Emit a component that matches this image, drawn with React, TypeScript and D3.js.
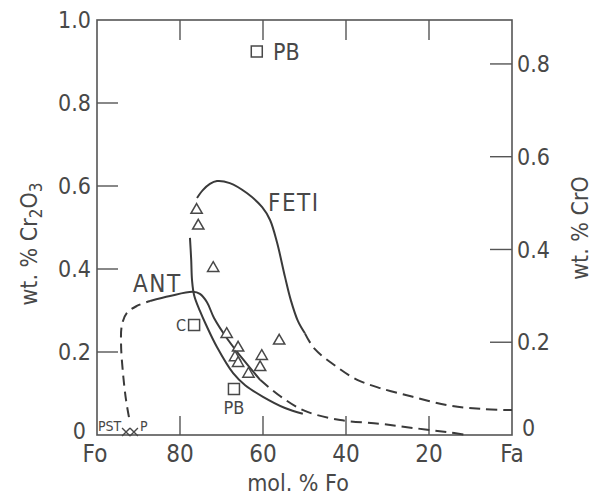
import React from 'react';
import * as d3 from 'd3';

// mol.% Fo, wt.% Cr2O3
const triangles: [number, number][] = [
  [76.0, 0.542], [75.6, 0.504], [72.0, 0.402], [68.75, 0.243], [66.0, 0.21],
  [66.75, 0.187], [66.0, 0.173], [63.5, 0.147], [60.3, 0.19], [60.7, 0.163], [56.1, 0.227],
];
const squares: [number, number][] = [[61.5, 0.924], [76.6, 0.265], [67.0, 0.111]];
const crosses: [number, number][] = [[93.0, 0.007], [91.1, 0.007]];

const antDashLeft: [number, number][] = [
  [92.3, 0.043], [93.0, 0.084], [93.7, 0.145], [94.2, 0.217], [94.0, 0.265],
  [92.8, 0.294], [90.4, 0.311], [87.2, 0.323],
];
const antSolid: [number, number][] = [
  [87.2, 0.323], [82.4, 0.335], [76.9, 0.345], [75.2, 0.34], [73.5, 0.32],
  [71.8, 0.282], [68.4, 0.229], [64.3, 0.176], [60.7, 0.133],
];
const antDashRight: [number, number][] = [
  [60.7, 0.133], [55.9, 0.094], [49.9, 0.058], [41.4, 0.036], [31.8, 0.027],
  [23.9, 0.017], [15.7, 0.007], [10.8, 0],
];
const fetiLower: [number, number][] = [
  [50.4, 0.051], [54.7, 0.065], [60.0, 0.092], [64.3, 0.12], [67.2, 0.149],
  [71.1, 0.212], [73.7, 0.265], [75.2, 0.299], [76.6, 0.337], [77.1, 0.373],
  [77.3, 0.422], [77.6, 0.475],
];
const fetiUpper: [number, number][] = [
  [75.9, 0.571], [74.5, 0.59], [72.8, 0.605], [71.1, 0.612], [68.0, 0.607],
  [63.9, 0.583], [60.2, 0.549], [58.3, 0.518], [56.6, 0.463], [54.7, 0.381],
  [53.3, 0.325], [51.6, 0.275], [49.9, 0.245],
];
const fetiDash: [number, number][] = [
  [49.9, 0.245], [47.6, 0.208], [42.2, 0.164], [37.3, 0.133], [31.8, 0.113],
  [23.9, 0.092], [15.7, 0.072], [7.7, 0.063], [0, 0.06],
];

const xTicks = [80, 60, 40, 20];
const xTickLabels = ['Fo', '80', '60', '40', '20', 'Fa'];
const xTickLabelValues = [100, 80, 60, 40, 20, 0];
const leftTicks = [0.2, 0.4, 0.6, 0.8];
const leftLabels = ['0', '0.2', '0.4', '0.6', '0.8', '1.0'];
const rightTicks = [0.2, 0.4, 0.6, 0.8];
const rightLabels = ['0', '0.2', '0.4', '0.6', '0.8'];

// text annotations [label, Fo, Cr2O3]
const annotations: [string, number, number][] = [
  ['PB', 57.6, 0.923],
  ['FETI', 58.8, 0.561],
  ['ANT', 91.3, 0.366],
];

const W = 594;
const H = 500;
const left = 97, right = 512, top = 20, bottom = 435;
const ink = '#484848';
const font = "'DejaVu Sans Condensed', 'DejaVu Sans', sans-serif";

export default function App() {
  const x = d3.scaleLinear().domain([100, 0]).range([left, right]);
  const y = d3.scaleLinear().domain([0, 1]).range([bottom, top]);
  // CrO scale: wt.% CrO = wt.% Cr2O3 * 2CrO / Cr2O3
  const yR = d3.scaleLinear().domain([0, (2 * 52.0 + 2 * 16.0) / (2 * 52.0 + 3 * 16.0)]).range([bottom, top]);

  const line = d3
    .line<[number, number]>()
    .x((d) => x(d[0]))
    .y((d) => y(d[1]))
    .curve(d3.curveCatmullRom.alpha(0.5));

  const tri = d3.symbol().type(d3.symbolTriangle).size(55)();
  const sq = d3.symbol().type(d3.symbolSquare).size(121)();

  const txt = { fontFamily: font, fontStretch: 'condensed' as const, fill: ink };

  return (
    <svg width={W} height={H} style={{ position: 'absolute', left: 0, top: 0, background: '#fff' }}>
      <rect x={left} y={top} width={right - left} height={bottom - top} fill="none" stroke="#555" strokeWidth={1.6} />
      {xTicks.map((t) => (
        <g key={'xt' + t} stroke="#555" strokeWidth={1.4}>
          <line x1={x(t)} x2={x(t)} y1={bottom} y2={bottom - 19} />
          <line x1={x(t)} x2={x(t)} y1={top} y2={top + 20} />
        </g>
      ))}
      {leftTicks.map((t) => (
        <line key={'lt' + t} x1={left} x2={left + 21} y1={y(t)} y2={y(t)} stroke="#555" strokeWidth={1.4} />
      ))}
      {rightTicks.map((t) => (
        <line key={'rt' + t} x1={right} x2={right - 22} y1={yR(t)} y2={yR(t)} stroke="#555" strokeWidth={1.4} />
      ))}

      {/* tick labels */}
      {xTickLabels.map((l, i) => (
        <text key={'xl' + l} x={x(xTickLabelValues[i]) - (i === 0 ? 2 : 0)} y={462} textAnchor="middle" fontSize={24} {...txt}>
          {l}
        </text>
      ))}
      {leftLabels.map((l, i) => (
        <text key={'ll' + l} x={i === 0 ? 86 : 91} y={y(i * 0.2) - (i === 0 ? 4 : 0)} dy="0.35em" textAnchor="end" fontSize={23} {...txt}>
          {l}
        </text>
      ))}
      {rightLabels.map((l, i) => (
        <text key={'rl' + l} x={i === 0 ? 522 : 517} y={yR(i * 0.2) - (i === 0 ? 7 : 0)} dy="0.35em" textAnchor="start" fontSize={23} {...txt}>
          {l}
        </text>
      ))}

      {/* axis titles */}
      <text x={298} y={491} textAnchor="middle" fontSize={23} {...txt}>
        mol. % Fo
      </text>
      <text transform="translate(37,244) rotate(-90)" textAnchor="middle" fontSize={23} {...txt}>
        wt. % Cr
        <tspan dy={5} fontSize={17}>2</tspan>
        <tspan dy={-5}>O</tspan>
        <tspan dy={5} fontSize={17}>3</tspan>
      </text>
      <text transform="translate(588,228) rotate(-90)" textAnchor="middle" fontSize={23} {...txt}>
        wt. % CrO
      </text>

      {/* curves */}
      <g fill="none" stroke="#3a3a3a" strokeWidth={2}>
        <path d={line(antSolid) || ''} />
        <path d={line(antDashLeft) || ''} strokeDasharray="10,6" />
        <path d={line(antDashRight) || ''} strokeDasharray="11,6" />
        <path d={line(fetiLower) || ''} />
        <path d={line(fetiUpper) || ''} />
        <path d={line(fetiDash) || ''} strokeDasharray="11,6" />
      </g>

      {/* symbols */}
      {triangles.map((d, i) => (
        <path key={'tr' + i} d={tri || ''} transform={`translate(${x(d[0])},${y(d[1])})`} fill="#fff" stroke={ink} strokeWidth={1.5} />
      ))}
      {squares.map((d, i) => (
        <path key={'sq' + i} d={sq || ''} transform={`translate(${x(d[0])},${y(d[1])})`} fill="#fff" stroke={ink} strokeWidth={1.5} />
      ))}
      {crosses.map((d, i) => (
        <path
          key={'cx' + i}
          d={`M${x(d[0]) - 4},${y(d[1]) - 4}L${x(d[0]) + 4},${y(d[1]) + 4}M${x(d[0]) - 4},${y(d[1]) + 4}L${x(d[0]) + 4},${y(d[1]) - 4}`}
          stroke={ink}
          strokeWidth={1.4}
        />
      ))}

      {/* annotations */}
      {annotations.map(([l, fo, cr]) => (
        <text key={'an' + l} x={x(fo)} y={y(cr)} dy="0.35em" fontSize={l === 'PB' ? 23 : 24} letterSpacing={l === 'PB' ? 0 : 1.5} {...txt}>
          {l}
        </text>
      ))}
      <text x={x(squares[1][0]) - 8} y={y(squares[1][1])} dy="0.35em" textAnchor="end" fontSize={16} {...txt}>
        C
      </text>
      <text x={x(squares[2][0])} y={y(squares[2][1]) + 19} dy="0.35em" textAnchor="middle" fontSize={18} {...txt}>
        PB
      </text>
      <text x={x(100) + 1} y={y(0) - 9} dy="0.35em" fontSize={14} {...txt}>
        PST
      </text>
      <text x={x(crosses[1][0]) + 6} y={y(0) - 9} dy="0.35em" fontSize={14} {...txt}>
        P
      </text>
    </svg>
  );
}
